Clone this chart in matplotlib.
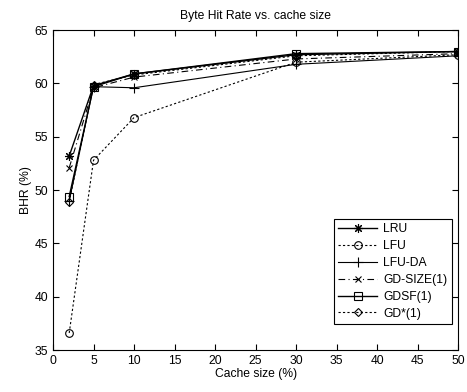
import matplotlib
matplotlib.use("Agg")
import matplotlib.pyplot as plt

plt.rcParams['font.family'] = ['Liberation Sans', 'DejaVu Sans']

cache_size = [2, 5, 10, 30, 50]
lru = [53.2, 59.8, 60.9, 62.7, 63.0]
lfu = [36.6, 52.8, 56.8, 62.0, 62.7]
lfu_da = [49.0, 59.7, 59.6, 61.8, 62.6]
gd_size = [52.1, 59.6, 60.6, 62.3, 62.8]
gdsf = [49.4, 59.7, 60.9, 62.8, 63.0]
gd_star = [48.9, 59.9, 60.8, 62.6, 63.0]

fig = plt.figure(figsize=(4.67, 3.92), dpi=100)
ax = fig.add_axes([0.1135, 0.107, 0.8675, 0.816])

ms = 5.5
ax.plot(cache_size, lru, color='black', ls='-', marker=(8, 2, 0), ms=ms + 1, lw=1, label='LRU', mew=0.8)
ax.plot(cache_size, lfu, color='black', ls=(0, (2, 2)), marker='o', ms=ms, lw=0.8, label='LFU', mfc='none', mew=0.8)
ax.plot(cache_size, lfu_da, color='black', ls='-', marker='+', ms=ms + 2, lw=0.8, label='LFU-DA', mew=0.8)
ax.plot(cache_size, gd_size, color='black', ls=(0, (6, 3, 1, 3)), marker='x', ms=ms - 1, lw=0.8, label='GD-SIZE(1)', mew=0.8)
ax.plot(cache_size, gdsf, color='black', ls='-', marker='s', ms=ms + 0.5, lw=1, label='GDSF(1)', mfc='none', mew=0.8)
ax.plot(cache_size, gd_star, color='black', ls=(0, (2, 2)), marker='D', ms=ms - 1, lw=0.8, label='GD*(1)', mfc='none', mew=0.8)

ax.set_xlim(0, 50)
ax.set_ylim(35, 65)
ax.set_xticks(range(0, 51, 5))
ax.set_yticks(range(35, 66, 5))
fs = 8.7
ax.tick_params(direction='in', top=True, right=True, labelsize=fs, length=4)
for s in ax.spines.values():
    s.set_linewidth(0.8)
ax.set_xlabel('Cache size (%)', fontsize=fs, labelpad=1)
ax.set_ylabel('BHR (%)', fontsize=fs, labelpad=2)
ax.set_title('Byte Hit Rate vs. cache size', fontsize=fs, pad=8)

leg = ax.legend(loc='lower right', bbox_to_anchor=(0.985, 0.08), fontsize=fs, fancybox=False,
                edgecolor='black', framealpha=1, handlelength=3.2, borderaxespad=0,
                labelspacing=0.4, handletextpad=0.5)
leg.get_frame().set_linewidth(0.8)

fig.savefig('out.png', dpi=100)
